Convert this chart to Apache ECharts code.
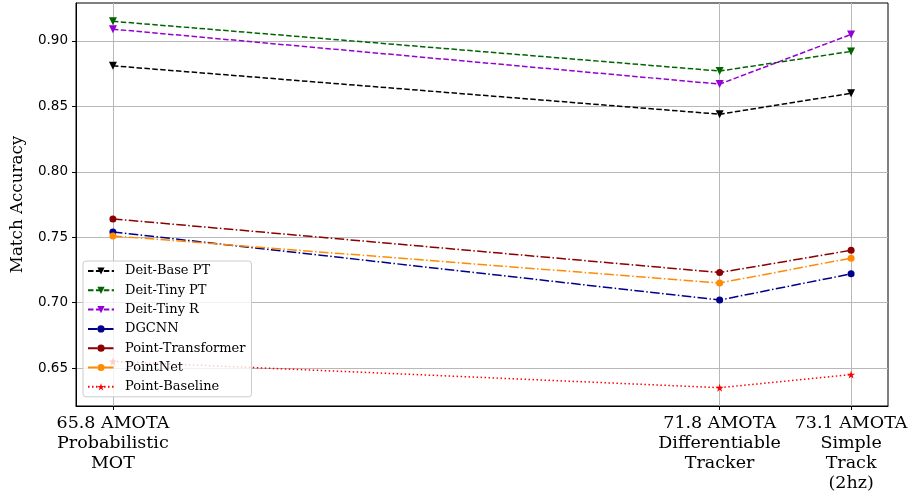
<!DOCTYPE html>
<html>
<head>
<meta charset="utf-8">
<script src="https://cdn.jsdelivr.net/npm/echarts@6/dist/echarts.min.js"></script>
<style>
  html, body { margin: 0; padding: 0; background: #fff; }
  #chart { width: 909px; height: 493px; }
</style>
</head>
<body>
<div id="chart"></div>
<script>
// Tracker AMOTA scores (x positions) and their tick labels
const trackerAmota = [65.8, 71.8, 73.1];
const trackerLabels = ['65.8 AMOTA\nProbabilistic\nMOT', '71.8 AMOTA\nDifferentiable\nTracker', '73.1 AMOTA\nSimple\nTrack\n(2hz)'];
const yTicks = [0.65, 0.70, 0.75, 0.80, 0.85, 0.90];

// Match accuracy per model, one value per tracker
const deitBasePT = [0.881, 0.844, 0.860];
const deitTinyPT = [0.915, 0.877, 0.892];
const deitTinyR = [0.909, 0.867, 0.905];
const dgcnn = [0.754, 0.702, 0.722];
const pointTransformer = [0.764, 0.723, 0.740];
const pointNet = [0.751, 0.715, 0.734];
const pointBaseline = [0.655, 0.635, 0.645];

const starPath = 'path://M50,0 L61.8,35.1 L98.1,35.1 L68.7,56.8 L79.4,91.0 L50,70 L20.6,91.0 L31.3,56.8 L1.9,35.1 L38.2,35.1 Z';
const dashed = [5.5, 2.4];
const dashDot = [9.6, 2.4, 1.5, 2.4];
const dotted = [1.5, 2.5];

function pts(vals) {
  return trackerAmota.map((x, i) => [x, vals[i]]);
}

function makeSeries(name, vals, color, dash, symbol, size, rotate) {
  return {
    name: name,
    type: 'line',
    data: pts(vals),
    symbol: symbol,
    symbolSize: size,
    symbolRotate: rotate || 0,
    lineStyle: { color: color, width: 1.5, type: dash },
    itemStyle: { color: color, borderWidth: 0 },
    emphasis: { disabled: true },
    z: 3
  };
}

const series = [
  makeSeries('Deit-Base PT', deitBasePT, '#000000', dashed, 'triangle', 8, 180),
  makeSeries('Deit-Tiny PT', deitTinyPT, '#006400', dashed, 'triangle', 8, 180),
  makeSeries('Deit-Tiny R', deitTinyR, '#9400D3', dashed, 'triangle', 8, 180),
  makeSeries('DGCNN', dgcnn, '#00008B', dashDot, 'circle', 7),
  makeSeries('Point-Transformer', pointTransformer, '#8B0000', dashDot, 'circle', 7),
  makeSeries('PointNet', pointNet, '#FF8C00', dashDot, 'circle', 7),
  makeSeries('Point-Baseline', pointBaseline, '#FF0000', dotted, starPath, 8)
];

const chart = echarts.init(document.getElementById('chart'), null, { renderer: 'canvas' });
chart.setOption({
  animation: false,
  backgroundColor: '#ffffff',
  grid: {
    left: 76, right: 21, top: 3, bottom: 87,
    outerBoundsMode: 'none',
    show: true, borderColor: '#000', borderWidth: 1, backgroundColor: 'transparent'
  },
  legend: {
    orient: 'vertical',
    left: 83, top: 261,
    itemWidth: 26, itemHeight: 9, itemGap: 5.3,
    padding: [3, 6, 3, 4],
    backgroundColor: 'rgba(255,255,255,0.8)',
    borderColor: '#cccccc', borderWidth: 1, borderRadius: 3,
    textStyle: { fontFamily: 'DejaVu Serif', fontSize: 13, lineHeight: 14, color: '#000', padding: [0, 0, 0, 6] },
    data: series.map(s => s.name)
  },
  xAxis: {
    type: 'value',
    min: 65.435, max: 73.465,
    axisLine: { show: true, lineStyle: { color: '#000', width: 1 } },
    axisTick: { show: true, length: 4, customValues: trackerAmota, lineStyle: { color: '#000' } },
    axisLabel: {
      customValues: trackerAmota,
      formatter: v => {
        const i = trackerAmota.findIndex(t => Math.abs(t - v) < 1e-6);
        return i >= 0 ? trackerLabels[i] : '';
      },
      fontFamily: 'DejaVu Serif', fontSize: 17.5, lineHeight: 20, color: '#000', margin: 7
    },
    splitLine: { show: true, lineStyle: { color: '#b8b8b8', width: 1 } }
  },
  yAxis: {
    type: 'value',
    min: 0.621, max: 0.929,
    name: 'Match Accuracy',
    nameLocation: 'middle',
    nameGap: 50,
    nameTextStyle: { fontFamily: 'DejaVu Serif', fontSize: 16.7, color: '#000' },
    axisLine: { show: true, lineStyle: { color: '#000', width: 1 } },
    axisTick: { show: true, length: 4, customValues: yTicks, lineStyle: { color: '#000' } },
    axisLabel: {
      customValues: yTicks,
      formatter: v => v.toFixed(2),
      fontFamily: 'DejaVu Sans', fontSize: 13.5, color: '#000', margin: 8
    },
    splitLine: { show: true, lineStyle: { color: '#b8b8b8', width: 1 } }
  },
  series: series
});
</script>
</body>
</html>
